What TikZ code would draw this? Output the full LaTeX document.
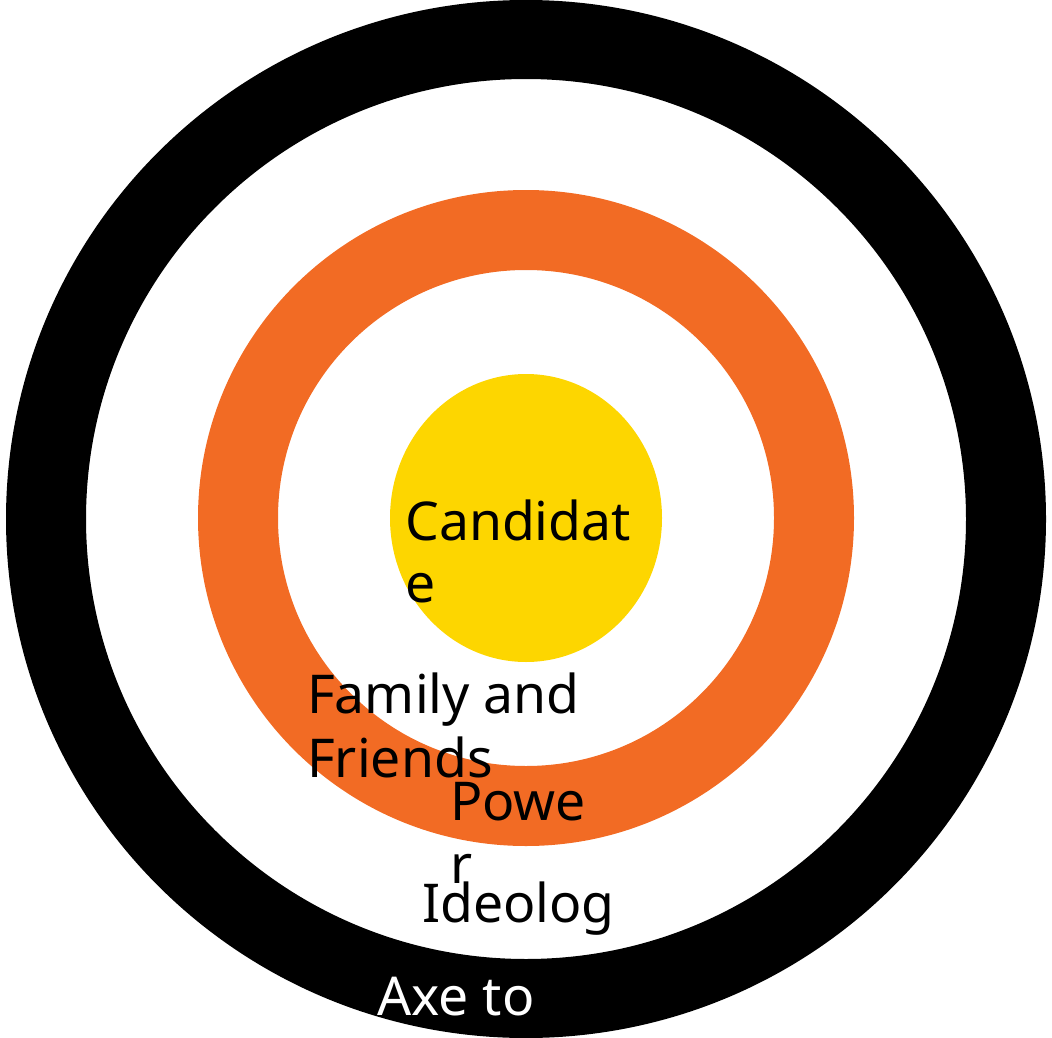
\documentclass[tikz,border=0pt]{standalone}
\usepackage{fontspec}
\setmainfont{Noto Sans}
\definecolor{ringorange}{RGB}{242,107,36}
\definecolor{coreyellow}{RGB}{253,214,0}
\begin{document}
\begin{tikzpicture}[x=1pt,y=-1pt,
  lbl/.style={anchor=base west,inner sep=0pt,font=\fontsize{53.5}{62}\selectfont,text=black},
  wlbl/.style={lbl,text=white}]
\useasboundingbox (0,0) rectangle (1052,1038);
\fill[black,even odd rule] (526,519) ellipse [x radius=520,y radius=519] (526,519) circle [radius=440];
\fill[ringorange,even odd rule] (526,518) circle [radius=328] (526,518) circle [radius=248];
\fill[coreyellow] (526,518) ellipse [x radius=136,y radius=144];
\node[lbl] (c1) at (405,540) {Candidat};
\node[lbl] (c2) at (405,602) {e};
\node[lbl] (f1) at (307,713) {Family and};
\node[lbl] (f2) at (307,777) {Friends};
\node[lbl] (p1) at (450,820) {Powe};
\node[lbl] (p2) at (450,883) {r};
\node[lbl] (i1) at (422,922) {Ideolog};
\node[wlbl] (a1) at (377,1015) {Axe to};
\end{tikzpicture}
\end{document}
